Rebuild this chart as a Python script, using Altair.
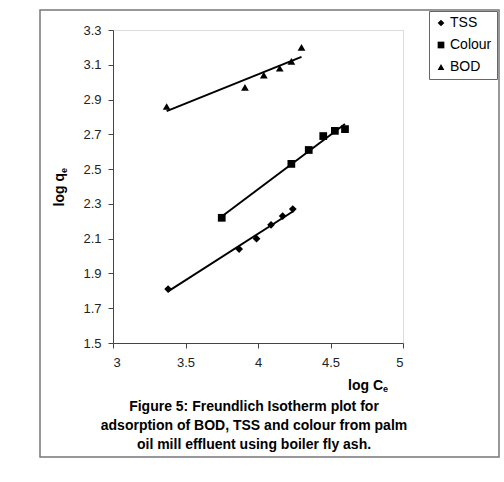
import altair as alt
import pandas as pd

# Freundlich isotherm data: log Ce (x) vs log qe (y)
tss_x = [3.38, 3.87, 3.99, 4.09, 4.17, 4.24]
tss_y = [1.81, 2.04, 2.10, 2.18, 2.23, 2.27]
colour_x = [3.75, 4.23, 4.35, 4.45, 4.53, 4.60]
colour_y = [2.22, 2.53, 2.61, 2.69, 2.72, 2.73]
bod_x = [3.37, 3.91, 4.04, 4.15, 4.23, 4.30]
bod_y = [2.86, 2.97, 3.04, 3.08, 3.12, 3.20]

series_names = ["TSS", "Colour", "BOD"]
series_shapes = ["diamond", "square", "triangle-up"]
x_ticks = [3, 3.5, 4, 4.5, 5]
y_ticks = [1.5, 1.7, 1.9, 2.1, 2.3, 2.5, 2.7, 2.9, 3.1, 3.3]
caption = [
    "Figure 5: Freundlich Isotherm plot for",
    "adsorption of BOD, TSS and colour from palm",
    "oil mill effluent using boiler fly ash.",
]

rows = []
for name, xs, ys in [("TSS", tss_x, tss_y), ("Colour", colour_x, colour_y), ("BOD", bod_x, bod_y)]:
    for a, b in zip(xs, ys):
        rows.append({"series": name, "x": a, "y": b})
df = pd.DataFrame(rows)

FONT = "Liberation Sans"

x_enc = alt.X("x:Q", scale=alt.Scale(domain=[3, 5], nice=False, zero=False),
              axis=alt.Axis(values=x_ticks, format="~g", title=None, grid=False,
                            tickSize=5, labelPadding=8, labelFontSize=13,
                            labelFont=FONT, labelColor="#222", domainColor="#444",
                            tickColor="#444"))
y_enc = alt.Y("y:Q", scale=alt.Scale(domain=[1.5, 3.3], nice=False, zero=False),
              axis=alt.Axis(values=y_ticks, format=".1f", title=None, grid=False,
                            tickSize=5, labelPadding=7, labelFontSize=13,
                            labelFont=FONT, labelColor="#222", domainColor="#444",
                            tickColor="#444"))

# Linear fits for each series
fits = alt.Chart(df).transform_regression(
    "x", "y", groupby=["series"]
).mark_line(color="black", strokeWidth=2).encode(x=x_enc, y=y_enc, detail="series:N")

points = alt.Chart(df).mark_point(filled=True, color="black", opacity=1, size=60).encode(
    x=x_enc,
    y=y_enc,
    shape=alt.Shape(
        "series:N",
        scale=alt.Scale(domain=series_names, range=series_shapes),
        sort=series_names,
        legend=alt.Legend(
            title=None, orient="none", legendX=316, legendY=-19,
            strokeColor="#666", fillColor="white", padding=5, rowPadding=8,
            labelFont=FONT, labelFontSize=14, labelColor="black", labelOffset=2,
            symbolFillColor="black", symbolStrokeColor="black", symbolStrokeWidth=0,
            symbolSize=45,
        ),
    ),
)

one = pd.DataFrame({"k": [0]})

# Outer figure frame
frame = alt.Chart(one).mark_rect(fillOpacity=0, stroke="#777", strokeWidth=1.5).encode(
    x=alt.value(-73), x2=alt.value(386), y=alt.value(-20), y2=alt.value(427)
)


def label(text, x, y, size=14, **kw):
    return alt.Chart(one).mark_text(text=text, font=FONT, fontSize=size,
                                    fontWeight="bold", **kw).encode(
        x=alt.value(x), y=alt.value(y))


# Axis titles with subscripts
ytitle = label("log q", -53, 143, angle=270, align="right", baseline="middle")
ytitle_sub = label("e", -53, 143, size=9, angle=270, align="left", baseline="middle", dy=4)
xtitle = label("log C", 270, 360, align="right", baseline="alphabetic")
xtitle_sub = label("e", 270, 360, size=9, align="left", baseline="alphabetic", dy=2)

# Figure caption, one text mark per line
cap_y = [377, 396, 415]
captions = [label(t, 141, yy, align="center", baseline="middle") for t, yy in zip(caption, cap_y)]

chart = alt.layer(frame, fits, points, ytitle, ytitle_sub, xtitle, xtitle_sub, *captions).properties(
    width=290, height=313,
    autosize=alt.AutoSizeParams(type="none"),
    padding={"left": 113, "top": 30, "right": 101, "bottom": 139},
).configure_view(stroke=None).configure(background="white")

chart.save("out.html", embed_options={"renderer": "svg", "actions": False})
